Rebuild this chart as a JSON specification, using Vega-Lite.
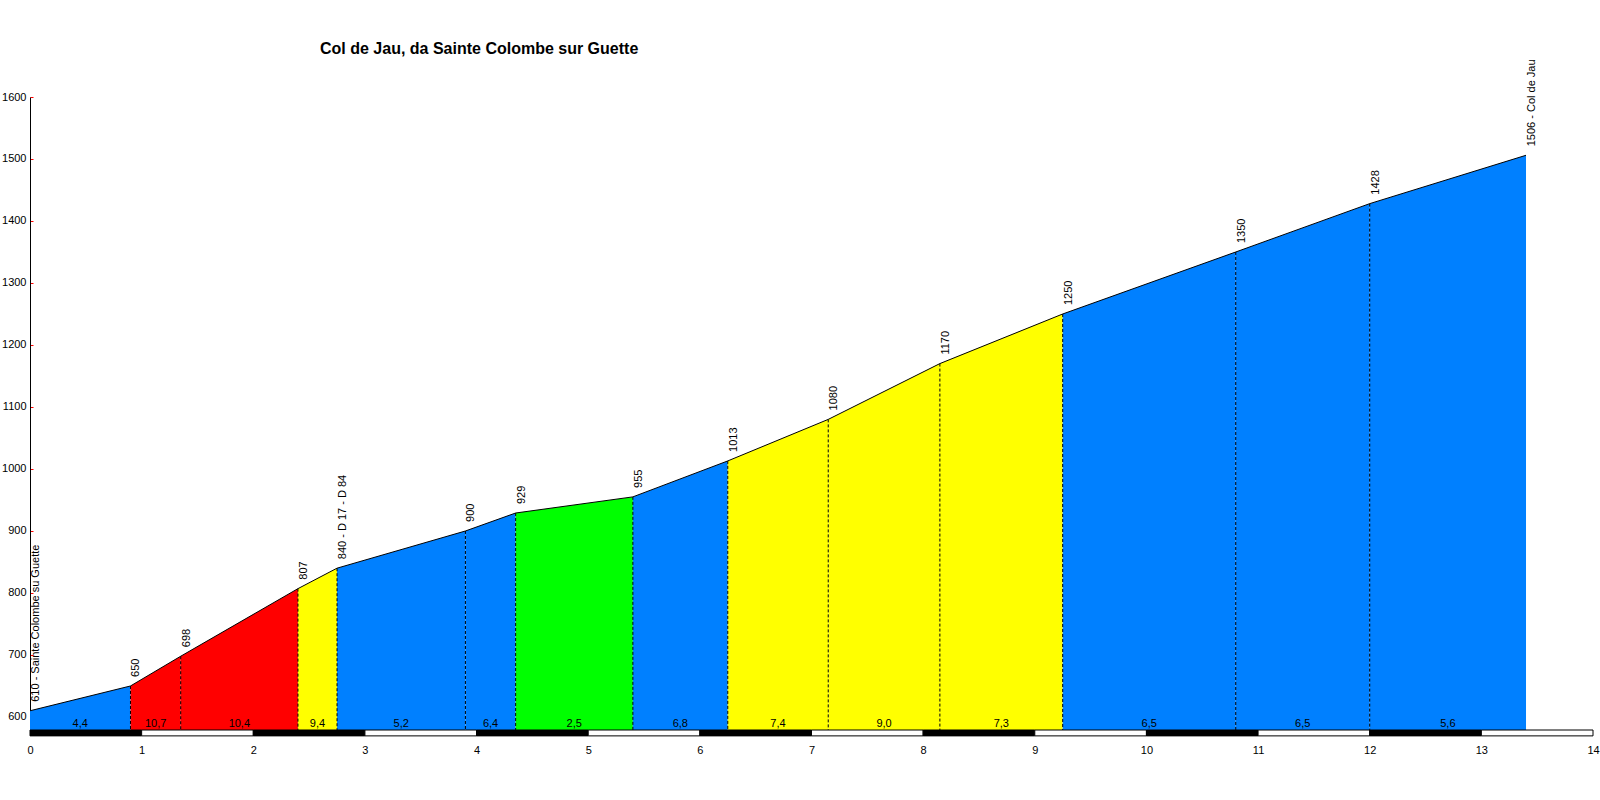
{
  "$schema": "https://vega.github.io/schema/vega-lite/v6.json",
  "width": 1563,
  "height": 633,
  "autosize": {"type": "none"},
  "padding": {"left": 30, "top": 97, "right": 7, "bottom": 70},
  "background": "white",
  "title": {
    "text": "Col de Jau, da Sainte Colombe sur Guette",
    "anchor": "start",
    "frame": "group",
    "dx": 290,
    "offset": 2,
    "font": "Liberation Sans",
    "fontSize": 16,
    "fontWeight": "bold",
    "color": "black"
  },
  "config": {
    "view": {"stroke": null},
    "axis": {"grid": false, "labelFont": "Liberation Sans", "labelFontSize": 11, "labelColor": "black", "title": null}
  },
  "datasets": {
    "profile": [
      {"km": 0, "elev": 610, "label": "610 - Sainte Colombe su Guette"},
      {"km": 0.9, "elev": 650, "label": "650"},
      {"km": 1.35, "elev": 698, "label": "698"},
      {"km": 2.4, "elev": 807, "label": "807"},
      {"km": 2.75, "elev": 840, "label": "840 - D 17 - D 84"},
      {"km": 3.9, "elev": 900, "label": "900"},
      {"km": 4.35, "elev": 929, "label": "929"},
      {"km": 5.4, "elev": 955, "label": "955"},
      {"km": 6.25, "elev": 1013, "label": "1013"},
      {"km": 7.15, "elev": 1080, "label": "1080"},
      {"km": 8.15, "elev": 1170, "label": "1170"},
      {"km": 9.25, "elev": 1250, "label": "1250"},
      {"km": 10.8, "elev": 1350, "label": "1350"},
      {"km": 12.0, "elev": 1428, "label": "1428"},
      {"km": 13.4, "elev": 1506, "label": "1506 - Col de Jau"}
    ],
    "segs": [
      {"seg": 1, "km": 0, "elev": 610, "color": "#0080FF"},
      {"seg": 1, "km": 0.9, "elev": 650, "color": "#0080FF"},
      {"seg": 2, "km": 0.9, "elev": 650, "color": "#FF0000"},
      {"seg": 2, "km": 1.35, "elev": 698, "color": "#FF0000"},
      {"seg": 3, "km": 1.35, "elev": 698, "color": "#FF0000"},
      {"seg": 3, "km": 2.4, "elev": 807, "color": "#FF0000"},
      {"seg": 4, "km": 2.4, "elev": 807, "color": "#FFFF00"},
      {"seg": 4, "km": 2.75, "elev": 840, "color": "#FFFF00"},
      {"seg": 5, "km": 2.75, "elev": 840, "color": "#0080FF"},
      {"seg": 5, "km": 3.9, "elev": 900, "color": "#0080FF"},
      {"seg": 6, "km": 3.9, "elev": 900, "color": "#0080FF"},
      {"seg": 6, "km": 4.35, "elev": 929, "color": "#0080FF"},
      {"seg": 7, "km": 4.35, "elev": 929, "color": "#00FF00"},
      {"seg": 7, "km": 5.4, "elev": 955, "color": "#00FF00"},
      {"seg": 8, "km": 5.4, "elev": 955, "color": "#0080FF"},
      {"seg": 8, "km": 6.25, "elev": 1013, "color": "#0080FF"},
      {"seg": 9, "km": 6.25, "elev": 1013, "color": "#FFFF00"},
      {"seg": 9, "km": 7.15, "elev": 1080, "color": "#FFFF00"},
      {"seg": 10, "km": 7.15, "elev": 1080, "color": "#FFFF00"},
      {"seg": 10, "km": 8.15, "elev": 1170, "color": "#FFFF00"},
      {"seg": 11, "km": 8.15, "elev": 1170, "color": "#FFFF00"},
      {"seg": 11, "km": 9.25, "elev": 1250, "color": "#FFFF00"},
      {"seg": 12, "km": 9.25, "elev": 1250, "color": "#0080FF"},
      {"seg": 12, "km": 10.8, "elev": 1350, "color": "#0080FF"},
      {"seg": 13, "km": 10.8, "elev": 1350, "color": "#0080FF"},
      {"seg": 13, "km": 12.0, "elev": 1428, "color": "#0080FF"},
      {"seg": 14, "km": 12.0, "elev": 1428, "color": "#0080FF"},
      {"seg": 14, "km": 13.4, "elev": 1506, "color": "#0080FF"}
    ],
    "grades": [
      {"km": 0.45, "grade": "4,4"},
      {"km": 1.125, "grade": "10,7"},
      {"km": 1.875, "grade": "10,4"},
      {"km": 2.575, "grade": "9,4"},
      {"km": 3.325, "grade": "5,2"},
      {"km": 4.125, "grade": "6,4"},
      {"km": 4.875, "grade": "2,5"},
      {"km": 5.825, "grade": "6,8"},
      {"km": 6.7, "grade": "7,4"},
      {"km": 7.65, "grade": "9,0"},
      {"km": 8.7, "grade": "7,3"},
      {"km": 10.025, "grade": "6,5"},
      {"km": 11.4, "grade": "6,5"},
      {"km": 12.7, "grade": "5,6"}
    ],
    "strip": [
      {"km0": 0, "km1": 1, "fill": "black"},
      {"km0": 1, "km1": 2, "fill": "white"},
      {"km0": 2, "km1": 3, "fill": "black"},
      {"km0": 3, "km1": 4, "fill": "white"},
      {"km0": 4, "km1": 5, "fill": "black"},
      {"km0": 5, "km1": 6, "fill": "white"},
      {"km0": 6, "km1": 7, "fill": "black"},
      {"km0": 7, "km1": 8, "fill": "white"},
      {"km0": 8, "km1": 9, "fill": "black"},
      {"km0": 9, "km1": 10, "fill": "white"},
      {"km0": 10, "km1": 11, "fill": "black"},
      {"km0": 11, "km1": 12, "fill": "white"},
      {"km0": 12, "km1": 13, "fill": "black"},
      {"km0": 13, "km1": 14, "fill": "white"}
    ]
  },
  "layer": [
    {
      "data": {"name": "segs"},
      "mark": {"type": "area", "interpolate": "linear"},
      "encoding": {
        "x": {"field": "km", "type": "quantitative", "scale": {"domain": [0, 14], "nice": false, "zero": false},
              "axis": {"values": [0,1,2,3,4,5,6,7,8,9,10,11,12,13,14], "format": "d", "domain": false, "ticks": false, "labelPadding": 14, "labelFlush": false, "title": null}},
        "y": {"field": "elev", "type": "quantitative", "stack": null, "scale": {"domain": [579, 1600], "nice": false, "zero": false},
              "axis": {"values": [600,700,800,900,1000,1100,1200,1300,1400,1500,1600], "format": "d", "domain": true, "domainColor": "black", "ticks": true, "tickColor": "red", "tickSize": -3, "labelPadding": 7, "title": null}},
        "y2": {"datum": 579},
        "color": {"field": "color", "type": "nominal", "scale": null},
        "detail": {"field": "seg", "type": "nominal"}
      }
    },
    {
      "data": {"name": "profile"},
      "mark": {"type": "line", "color": "black", "strokeWidth": 1},
      "encoding": {
        "x": {"field": "km", "type": "quantitative"},
        "y": {"field": "elev", "type": "quantitative"}
      }
    },
    {
      "data": {"name": "profile"},
      "transform": [{"filter": "datum.km > 0 && datum.km < 13.4"}],
      "mark": {"type": "rule", "color": "black", "strokeWidth": 1, "strokeDash": [3, 2]},
      "encoding": {
        "x": {"field": "km", "type": "quantitative"},
        "y": {"field": "elev", "type": "quantitative"},
        "y2": {"datum": 579}
      }
    },
    {
      "data": {"name": "profile"},
      "mark": {"type": "text", "angle": 270, "align": "left", "baseline": "middle", "dx": 9, "dy": 6, "font": "Liberation Sans", "fontSize": 11, "color": "black"},
      "encoding": {
        "x": {"field": "km", "type": "quantitative"},
        "y": {"field": "elev", "type": "quantitative"},
        "text": {"field": "label"}
      }
    },
    {
      "data": {"name": "grades"},
      "mark": {"type": "text", "align": "center", "baseline": "bottom", "dy": -1, "font": "Liberation Sans", "fontSize": 11, "color": "black"},
      "encoding": {
        "x": {"field": "km", "type": "quantitative"},
        "y": {"datum": 579},
        "text": {"field": "grade"}
      }
    },
    {
      "data": {"name": "strip"},
      "mark": {"type": "rect", "stroke": "black", "strokeWidth": 1},
      "encoding": {
        "x": {"field": "km0", "type": "quantitative"},
        "x2": {"field": "km1"},
        "y": {"datum": 579},
        "y2": {"datum": 569.5},
        "fill": {"field": "fill", "type": "nominal", "scale": null}
      }
    }
  ]
}
